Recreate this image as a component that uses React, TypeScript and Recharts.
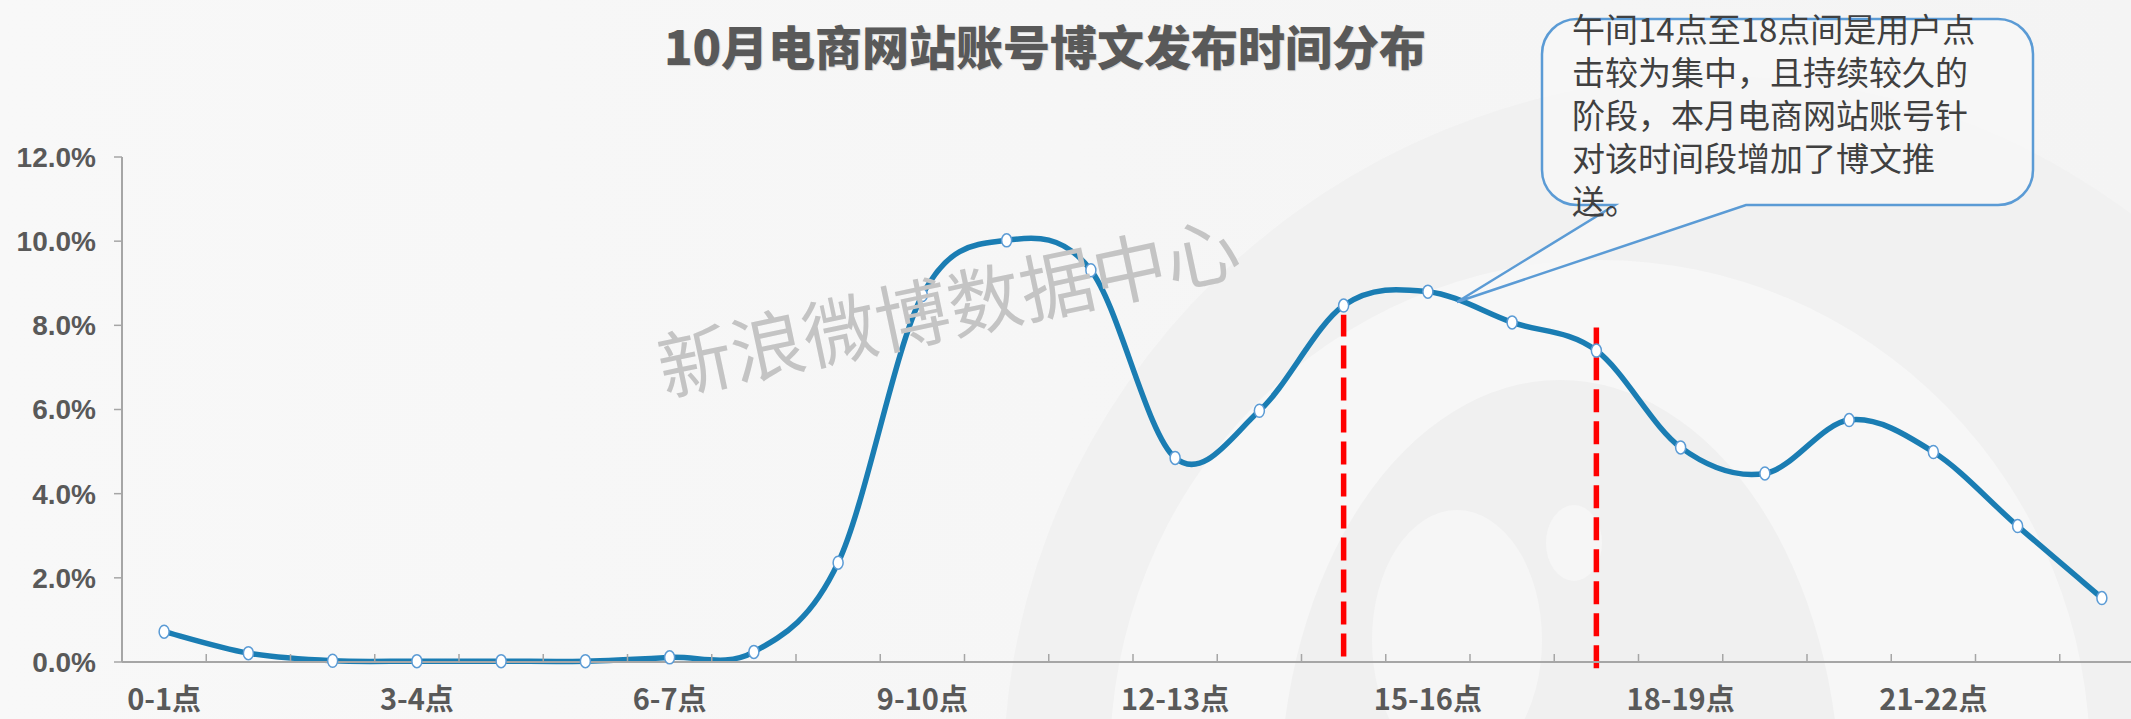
import { LineChart, Line, XAxis, YAxis, ReferenceLine } from 'recharts';

const hours = [
  '0-1点', '1-2点', '2-3点', '3-4点', '4-5点', '5-6点', '6-7点', '7-8点',
  '8-9点', '9-10点', '10-11点', '11-12点', '12-13点', '13-14点', '14-15点', '15-16点',
  '16-17点', '17-18点', '18-19点', '19-20点', '20-21点', '21-22点', '22-23点', '23-24点',
];
const share = [
  0.72, 0.21, 0.03, 0.02, 0.02, 0.02, 0.11, 0.24,
  2.36, 8.72, 10.02, 9.31, 4.85, 5.97, 8.47, 8.8,
  8.07, 7.4, 5.1, 4.48, 5.75, 4.99, 3.23, 1.52,
];
const yTicks = [0, 2, 4, 6, 8, 10, 12];
const labelTicks = [0, 3, 6, 9, 12, 15, 18, 21];
const boundaryTicks = Array.from({ length: 25 }, (_, i) => i);
// the two red markers: 14-15点 and 17-18点
const markers = [
  { hour: 14, from: 0.13, to: 8.25 },
  { hour: 17, from: -0.15, to: 7.95 },
];
const title = '10月电商网站账号博文发布时间分布';
const note = [
  '午间14点至18点间是用户点',
  '击较为集中，且持续较久的',
  '阶段，本月电商网站账号针',
  '对该时间段增加了博文推',
  '送。',
];
const watermark = '新浪微博数据中心';

const data = hours.map((name, i) => ({ name, x: i + 0.5, v: share[i] }));

// Excel style smoothing (uniform Catmull-Rom as cubic beziers)
const excelCurve = (context: any) => {
  let pts: number[][] = [];
  return {
    areaStart() {},
    areaEnd() {},
    lineStart() {
      pts = [];
    },
    point(x: number, y: number) {
      pts.push([+x, +y]);
    },
    lineEnd() {
      if (!pts.length) return;
      context.moveTo(pts[0][0], pts[0][1]);
      for (let i = 0; i < pts.length - 1; i++) {
        const p0 = pts[i - 1] || pts[i];
        const p1 = pts[i];
        const p2 = pts[i + 1];
        const p3 = pts[i + 2] || p2;
        context.bezierCurveTo(
          p1[0] + (p2[0] - p0[0]) / 6,
          p1[1] + (p2[1] - p0[1]) / 6,
          p2[0] - (p3[0] - p1[0]) / 6,
          p2[1] - (p3[1] - p1[1]) / 6,
          p2[0],
          p2[1],
        );
      }
    },
  };
};

const axisGray = '#a6a6a6';
const labelFont = '"Liberation Sans Narrow", "Arial Narrow", "Noto Sans CJK SC", sans-serif';

function Dot(props: any) {
  const { cx, cy, index } = props;
  return <ellipse key={index} cx={cx} cy={cy} rx={5} ry={6.5} fill="#fff" stroke="#5b9bd5" strokeWidth={1.5} />;
}

function Background() {
  return (
    <svg width={2131} height={719} style={{ position: 'absolute', left: 0, top: 0 }}>
      <defs>
        <linearGradient id="bg" x1="0" y1="0" x2="1" y2="0">
          <stop offset="0%" stopColor="#f8f8f8" />
          <stop offset="100%" stopColor="#f4f4f4" />
        </linearGradient>
      </defs>
      <rect width={2131} height={719} fill="url(#bg)" />
      <ellipse cx={1700} cy={760} rx={700} ry={680} fill="#f1f1f1" transform="rotate(-25 1700 760)" />
      <ellipse cx={1600} cy={760} rx={490} ry={500} fill="#f7f7f7" />
      <ellipse cx={1560} cy={800} rx={280} ry={420} fill="#f0f0f0" />
      <ellipse cx={1457} cy={640} rx={85} ry={130} fill="#f6f6f6" />
      <ellipse cx={1574} cy={543} rx={28} ry={38} fill="#f6f6f6" />
    </svg>
  );
}

function Overlay() {
  const box =
    'M 1577 19 H 1998 A 35 35 0 0 1 2033 54 V 170 A 35 35 0 0 1 1998 205 H 1746 ' +
    'L 1457 302 L 1615 205 H 1577 A 35 35 0 0 1 1542 170 V 54 A 35 35 0 0 1 1577 19 Z';
  return (
    <svg width={2131} height={719} style={{ position: 'absolute', left: 0, top: 0, pointerEvents: 'none' }}>
      <text
        x={1045}
        y={65}
        textAnchor="middle"
        fontSize={47}
        fontWeight={900}
        fill="#595959"
        fontFamily='"Noto Sans CJK SC", sans-serif'
        style={{ textShadow: '1px 1px 1px rgba(0,0,0,0.15)' }}
      >
        {title}
      </text>
      <text
        x={950}
        y={315}
        textAnchor="middle"
        dominantBaseline="middle"
        fontSize={74}
        fill="#c4c4c4"
        fontFamily='"Noto Sans CJK SC", sans-serif'
        transform="rotate(-12 950 315)"
      >
        {watermark}
      </text>
      <path d={box} fill="#f6f6f6" fillOpacity={0.92} stroke="#5b9bd5" strokeWidth={2.5} />
      {note.map((line, i) => (
        <text
          key={i}
          x={1572}
          y={42 + i * 43}
          fontSize={33}
          fill="#404040"
          fontFamily='"Noto Sans CJK SC", sans-serif'
        >
          {line}
        </text>
      ))}
    </svg>
  );
}

export default function App() {
  return (
    <div style={{ position: 'fixed', left: 0, top: 0, width: 2131, height: 719, overflow: 'hidden' }}>
      <Background />
      <div style={{ position: 'absolute', left: 0, top: 0 }}>
        <LineChart width={2200} height={719} data={data} margin={{ top: 157, right: 56, left: 0, bottom: 56 }}>
          <YAxis
            type="number"
            domain={[0, 12]}
            ticks={yTicks}
            width={122}
            tickFormatter={(v: number) => v.toFixed(1) + '%'}
            axisLine={{ stroke: axisGray, strokeWidth: 2 }}
            tickLine={{ stroke: axisGray, strokeWidth: 1.5 }}
            tickSize={8}
            tickMargin={18}
            tick={{ fill: '#595959', fontSize: 28, fontWeight: 700, fontFamily: '"Liberation Sans", Arial, sans-serif' }}
          />
          <XAxis
            dataKey="x"
            type="number"
            domain={[0, 24]}
            ticks={boundaryTicks}
            height={1}
            mirror
            tickFormatter={() => ''}
            axisLine={{ stroke: axisGray, strokeWidth: 2 }}
            tickLine={{ stroke: axisGray, strokeWidth: 1.5 }}
            tickSize={8}
          />
          <XAxis
            xAxisId="labels"
            dataKey="x"
            type="number"
            domain={[0, 24]}
            ticks={labelTicks.map((i) => i + 0.5)}
            height={1}
            tickFormatter={(v: number) => hours[Math.floor(v)]}
            axisLine={false}
            tickLine={false}
            tickSize={0}
            tickMargin={27}
            tick={{ fill: '#595959', fontSize: 29, fontWeight: 700, fontFamily: labelFont }}
          />
          {markers.map((m) => (
            <ReferenceLine
              key={m.hour}
              segment={[
                { x: m.hour + 0.5, y: m.from },
                { x: m.hour + 0.5, y: m.to },
              ]}
              stroke="#ff0000"
              strokeWidth={5.5}
              strokeDasharray="23 9"
              ifOverflow="visible"
            />
          ))}
          <Line
            dataKey="v"
            type={excelCurve as any}
            stroke="#1a7db3"
            strokeWidth={5.5}
            dot={Dot}
            activeDot={false}
            isAnimationActive={false}
          />
        </LineChart>
      </div>
      <Overlay />
    </div>
  );
}
